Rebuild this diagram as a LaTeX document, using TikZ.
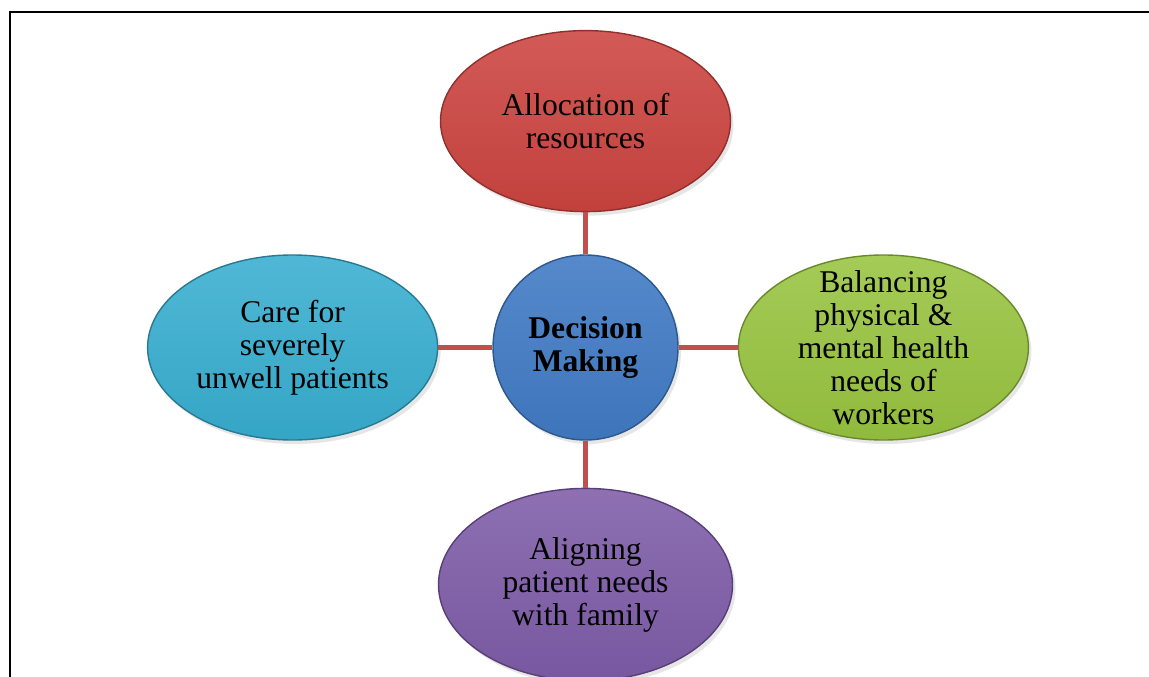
\documentclass[tikz,border=0pt]{standalone}
\usepackage{fontspec}
\setmainfont{Liberation Serif}
\usepackage{xcolor}
\usetikzlibrary{shapes.geometric, positioning, shadows}

\definecolor{allocred}{RGB}{204,68,64}
\definecolor{careblue}{RGB}{56,174,208}
\definecolor{workgreen}{RGB}{152,196,64}
\definecolor{familyviolet}{RGB}{126,92,168}
\definecolor{hubblue}{RGB}{66,124,198}
\definecolor{linkred}{RGB}{192,80,77}

\begin{document}
\begin{tikzpicture}[
    bubble/.style={ellipse, draw=#1!70!black, thick, top color=#1!88!white, bottom color=#1!95!black,
        minimum width=5.8cm, minimum height=3.7cm, inner xsep=0pt, inner ysep=-0.4cm, align=center,
        font=\fontsize{18}{18.8}\selectfont, drop shadow={opacity=0.2, shadow xshift=0.6mm, shadow yshift=-0.8mm}},
    hub/.style={circle, draw=hubblue!70!black, thick, top color=hubblue!90!white, bottom color=hubblue!94!black,
        minimum size=3.7cm, inner sep=0pt, align=center, font=\fontsize{18}{18.8}\selectfont\bfseries,
        drop shadow={opacity=0.2, shadow xshift=0.6mm, shadow yshift=-0.8mm}},
    link/.style={draw=linkred, line width=2.3pt},
    frame/.style={draw=black, line width=1.3pt}
]

% page size and the open frame (top and left edges only)
\useasboundingbox (0,0) rectangle (22.98,-13.54);
\draw[frame] (0.2,-13.54) -- (0.2,-0.24) -- (22.98,-0.24);

% =====================
% Centre
% =====================
\node[hub] (decision) at (11.71,-6.95) {Decision\\Making};

% =====================
% Surrounding topics
% =====================
\node[bubble=allocred, minimum height=3.62cm, above=0.84cm of decision] (alloc) {Allocation of\\resources};
\node[bubble=careblue, left=1.08cm of decision] (care) {Care for\\severely\\unwell patients};
\node[bubble=workgreen, right=1.18cm of decision] (workers) {Balancing\\physical \&\\mental health\\needs of\\workers};
\node[bubble=familyviolet, minimum width=5.88cm, minimum height=3.85cm, below=0.94cm of decision] (family) {Aligning\\patient needs\\with family};

% =====================
% Links
% =====================
\draw[link] (decision) -- (alloc);
\draw[link] (decision) -- (care);
\draw[link] (decision) -- (workers);
\draw[link] (decision) -- (family);

\end{tikzpicture}
\end{document}
